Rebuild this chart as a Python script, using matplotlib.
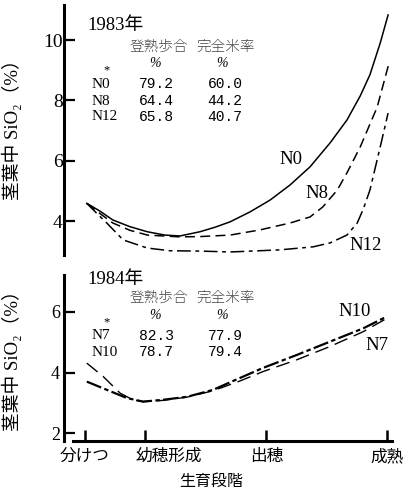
import matplotlib
matplotlib.use('Agg')
import matplotlib.pyplot as plt
import matplotlib.transforms as mtransforms

plt.rcParams['font.family'] = ['Liberation Serif', 'Noto Sans CJK JP', 'DejaVu Sans']

JP = ['Noto Sans CJK JP', 'DejaVu Sans']
MONO = ['Liberation Mono', 'DejaVu Sans Mono']

# growth stages on the x axis (tillering -> PI is half the other intervals)
stage_pos = [0, 1, 3, 5]
stage_names = ['分けつ', '幼穂形成', '出穂', '成熟']

# 1983, SiO2 in stem+leaf (%)
n0_x = [0.03, 0.25, 0.46, 0.74, 1.03, 1.32, 1.57, 1.90, 2.15, 2.40, 2.73, 3.06, 3.39,
        3.72, 4.05, 4.33, 4.55, 4.71, 4.88, 5.01]
n0_y = [4.59, 4.33, 4.04, 3.82, 3.65, 3.54, 3.51, 3.65, 3.80, 3.98, 4.31, 4.70, 5.20,
        5.80, 6.59, 7.35, 8.15, 8.85, 9.9, 10.83]
n8_x = [0.03, 0.25, 0.46, 0.74, 1.03, 1.57, 1.90, 2.40, 2.89, 3.39, 3.72, 3.93, 4.17,
        4.33, 4.55, 4.83, 5.03]
n8_y = [4.59, 4.25, 3.94, 3.70, 3.54, 3.48, 3.49, 3.54, 3.71, 3.94, 4.14, 4.47, 5.03,
        5.6, 6.46, 7.78, 9.27]
n12_x = [0.03, 0.20, 0.36, 0.63, 1.03, 1.41, 1.90, 2.40, 3.22, 3.77, 4.05, 4.33, 4.50,
         4.60, 4.71, 4.88, 5.01]
n12_y = [4.59, 4.25, 3.94, 3.38, 3.11, 3.02, 3.01, 2.98, 3.05, 3.15, 3.28, 3.54, 3.94,
         4.4, 5.03, 6.46, 7.58]

# 1984
n7_x = [0.03, 0.30, 0.58, 0.79, 0.96, 1.29, 1.69, 2.12, 2.56, 2.94, 3.50, 4.05, 4.60, 4.99]
n7_y = [4.31, 3.87, 3.32, 3.10, 3.04, 3.08, 3.19, 3.40, 3.72, 4.03, 4.42, 4.86, 5.35, 5.79]
n10_x = [0.03, 0.36, 0.69, 0.96, 1.29, 1.69, 2.12, 2.40, 2.94, 3.50, 4.05, 4.60, 4.99]
n10_y = [3.70, 3.43, 3.16, 3.04, 3.10, 3.20, 3.43, 3.68, 4.15, 4.58, 5.02, 5.46, 5.85]

# inset tables: ripening ratio (%), perfect grain ratio (%)
plots_1983 = ['N0', 'N8', 'N12']
ripen_1983 = [79.2, 64.4, 65.8]
perfect_1983 = [60.0, 44.2, 40.7]
plots_1984 = ['N7', 'N10']
ripen_1984 = [82.3, 78.7]
perfect_1984 = [77.9, 79.4]

ylabel = '茎葉中 SiO₂（%）'

fig = plt.figure(figsize=(4.08, 4.88), dpi=100)
ax1 = fig.add_axes([64/408, 1-255/488, 336/408, 250/488])
ax2 = fig.add_axes([64/408, 1-441/488, 336/408, 166/488])

lw = 1.1
ax1.plot(n0_x, n0_y, color='k', lw=lw)
ax1.plot(n8_x, n8_y, color='k', lw=lw, dashes=(6.5, 3.5))
ax1.plot(n12_x, n12_y, color='k', lw=lw, dashes=(9, 3, 2.5, 3))
ax2.plot(n7_x, n7_y, color='k', lw=1.0, dashes=(10, 5))
ax2.plot(n10_x, n10_y, color='k', lw=1.6, dashes=(7, 1.5, 2, 1.5))

for ax in (ax1, ax2):
    ax.set_xlim(-0.347, 5.207)
    for s in ('top', 'right'):
        ax.spines[s].set_visible(False)
    ax.spines['left'].set_linewidth(2.2)
    ax.tick_params(axis='y', direction='in', length=8, width=1.6, labelsize=14)

# 1983 panel
ax1.set_ylim(2.88, 11.16)
ax1.set_yticks([4, 6, 8, 10])
ax1.spines['bottom'].set_visible(False)
ax1.set_xticks([])
ax1.tick_params(axis='y', pad=1)
ax1.set_ylabel(ylabel, fontsize=13.5)
ax1.yaxis.set_label_coords(-0.125, 0.52)

ax1.text(3.40, 6.03, 'N0', fontsize=13.5, ha='center', va='center')
ax1.text(3.83, 4.93, 'N8', fontsize=13.5, ha='center', va='center')
ax1.text(4.64, 3.18, 'N12', fontsize=13.5, ha='center', va='center')

# 1984 panel
ax2.set_ylim(1.74, 7.22)
ax2.set_yticks([2, 4, 6])
ax2.tick_params(axis='y', pad=3, labelsize=13)
ax2.spines['bottom'].set_linewidth(2.2)
ax2.spines['bottom'].set_bounds(-0.2, 5.07)
ax2.set_xticks(stage_pos)
ax2.set_xticklabels(stage_names, family=JP, fontsize=12)
ax2.tick_params(axis='x', direction='in', length=8, width=1.8, pad=5)
shift = mtransforms.ScaledTranslation(23/100, 0, fig.dpi_scale_trans)
lbl = ax2.get_xticklabels()[1]
lbl.set_transform(lbl.get_transform() + shift)
ax2.set_ylabel(ylabel, fontsize=13.5)
ax2.yaxis.set_label_coords(-0.125, 0.51)
ax2.set_xlabel('生育段階', family=JP, fontsize=11.5)
ax2.xaxis.set_label_coords(0.4375, -0.19)

ax2.text(4.46, 6.0, 'N10', fontsize=13.5, ha='center', va='center')
ax2.text(4.83, 4.9, 'N7', fontsize=13.5, ha='center', va='center')


def draw_table(ax, year, names, ripen, perfect, y_year, y_head, y_pct, y_star, rows_y):
    t = ax.transAxes
    ax.text(0.071, y_year, year, transform=t, fontsize=13.5, va='center')
    ax.text(0.282, y_head, '登熟歩合', transform=t, family=JP, fontsize=10.5,
            color='#444444', fontweight='light', ha='center', va='center')
    ax.text(0.48, y_head, '完全米率', transform=t, family=JP, fontsize=10.5,
            color='#444444', fontweight='light', ha='center', va='center')
    ax.text(0.27, y_pct, '%', transform=t, fontsize=10, ha='center', va='center', style='italic')
    ax.text(0.47, y_pct, '%', transform=t, fontsize=10, ha='center', va='center', style='italic')
    ax.text(0.128, y_star, '*', transform=t, fontsize=9, ha='center', va='center')
    for name, r, p, yy in zip(names, ripen, perfect, rows_y):
        ax.text(0.083, yy, name, transform=t, fontsize=11, va='center')
        ax.text(0.274, yy, '%.1f' % r, transform=t, family=MONO, fontsize=10.5,
                ha='center', va='center')
        ax.text(0.479, yy, '%.1f' % p, transform=t, family=MONO, fontsize=10.5,
                ha='center', va='center')


draw_table(ax1, '1983年', plots_1983, ripen_1983, perfect_1983,
           0.92, 0.832, 0.768, 0.74, [0.684, 0.616, 0.552])
draw_table(ax2, '1984年', plots_1984, ripen_1984, perfect_1984,
           0.973, 0.861, 0.759, 0.717, [0.633, 0.536])

fig.savefig('out.png', dpi=100)
